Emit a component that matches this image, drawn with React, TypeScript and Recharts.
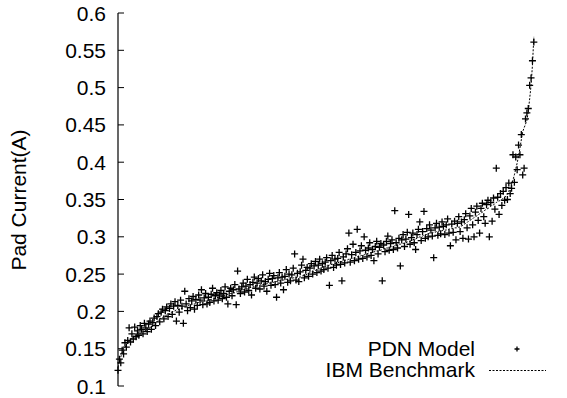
import { ComposedChart, Line, Scatter, XAxis, YAxis, Legend } from "recharts";

// IBM benchmark pad currents (sorted ascending), one value per pad
const benchmark = [
  0.125, 0.133, 0.139, 0.145, 0.149, 0.152, 0.155, 0.158, 0.16, 0.162,
  0.164, 0.166, 0.167, 0.168, 0.169, 0.17, 0.171, 0.172, 0.173, 0.174,
  0.175, 0.176, 0.177, 0.178, 0.179, 0.18, 0.182, 0.184, 0.186, 0.188,
  0.19, 0.191, 0.192, 0.193, 0.194, 0.195, 0.196, 0.197, 0.198, 0.199,
  0.2, 0.201, 0.202, 0.202, 0.203, 0.204, 0.204, 0.205, 0.206, 0.206,
  0.207, 0.208, 0.209, 0.209, 0.21, 0.21, 0.211, 0.211, 0.212, 0.212,
  0.213, 0.213, 0.214, 0.214, 0.215, 0.215, 0.216, 0.216, 0.217, 0.217,
  0.218, 0.218, 0.219, 0.219, 0.22, 0.22, 0.221, 0.221, 0.222, 0.223,
  0.223, 0.224, 0.224, 0.225, 0.225, 0.226, 0.227, 0.227, 0.228, 0.228,
  0.229, 0.229, 0.23, 0.23, 0.231, 0.232, 0.232, 0.233, 0.233, 0.234,
  0.234, 0.235, 0.235, 0.236, 0.236, 0.236, 0.237, 0.237, 0.238, 0.238,
  0.238, 0.239, 0.239, 0.24, 0.24, 0.24, 0.241, 0.241, 0.241, 0.242,
  0.242, 0.243, 0.243, 0.243, 0.244, 0.244, 0.245, 0.245, 0.245, 0.246,
  0.246, 0.246, 0.247, 0.248, 0.249, 0.249, 0.25, 0.251, 0.252, 0.253,
  0.253, 0.254, 0.255, 0.256, 0.257, 0.257, 0.258, 0.259, 0.26, 0.26,
  0.261, 0.261, 0.262, 0.263, 0.263, 0.264, 0.264, 0.265, 0.265, 0.266,
  0.266, 0.267, 0.268, 0.268, 0.269, 0.269, 0.27, 0.27, 0.271, 0.271,
  0.272, 0.273, 0.273, 0.274, 0.274, 0.275, 0.275, 0.276, 0.276, 0.277,
  0.278, 0.278, 0.279, 0.279, 0.28, 0.28, 0.281, 0.281, 0.282, 0.282,
  0.283, 0.284, 0.284, 0.285, 0.285, 0.286, 0.286, 0.287, 0.287, 0.288,
  0.289, 0.289, 0.29, 0.29, 0.291, 0.291, 0.292, 0.292, 0.293, 0.294,
  0.294, 0.295, 0.296, 0.297, 0.297, 0.298, 0.299, 0.3, 0.3, 0.301,
  0.302, 0.303, 0.303, 0.304, 0.305, 0.305, 0.306, 0.306, 0.306, 0.307,
  0.307, 0.308, 0.308, 0.308, 0.309, 0.309, 0.309, 0.31, 0.31, 0.311,
  0.311, 0.311, 0.312, 0.312, 0.312, 0.313, 0.313, 0.314, 0.316, 0.317,
  0.318, 0.319, 0.321, 0.322, 0.323, 0.324, 0.326, 0.327, 0.328, 0.329,
  0.331, 0.332, 0.333, 0.334, 0.336, 0.337, 0.338, 0.339, 0.341, 0.342,
  0.343, 0.344, 0.346, 0.347, 0.348, 0.349, 0.35, 0.352, 0.353, 0.355,
  0.357, 0.361, 0.366, 0.371, 0.376, 0.383, 0.391, 0.399, 0.408, 0.419,
  0.43, 0.441, 0.446, 0.451, 0.456, 0.468, 0.485, 0.503, 0.53, 0.568,
];

// PDN model estimate for the same pads
const pdnModel = [
  0.121, 0.136, 0.131, 0.148, 0.143, 0.158, 0.152, 0.161, 0.178, 0.159,
  0.17, 0.163, 0.179, 0.166, 0.174, 0.168, 0.181, 0.176, 0.17, 0.184,
  0.178, 0.173, 0.183, 0.187, 0.176, 0.185, 0.191, 0.181, 0.193, 0.197,
  0.186, 0.199, 0.203, 0.19, 0.201, 0.206, 0.193, 0.204, 0.21, 0.196,
  0.207, 0.213, 0.187, 0.208, 0.199, 0.215, 0.207, 0.184, 0.227, 0.21,
  0.201, 0.217, 0.205, 0.214, 0.22, 0.203, 0.216, 0.208, 0.222, 0.215,
  0.229, 0.209, 0.218, 0.224, 0.21, 0.219, 0.212, 0.223, 0.231, 0.214,
  0.221, 0.225, 0.215, 0.222, 0.228, 0.217, 0.224, 0.233, 0.219, 0.21,
  0.227, 0.231, 0.221, 0.229, 0.236, 0.209, 0.254, 0.23, 0.224, 0.233,
  0.238, 0.226, 0.234, 0.243, 0.228, 0.236, 0.222, 0.239, 0.246, 0.231,
  0.238, 0.244, 0.23, 0.241, 0.249, 0.234, 0.24, 0.227, 0.243, 0.251,
  0.235, 0.244, 0.248, 0.236, 0.219, 0.245, 0.252, 0.238, 0.246, 0.229,
  0.247, 0.256, 0.239, 0.25, 0.241, 0.249, 0.258, 0.277, 0.242, 0.251,
  0.24, 0.253, 0.262, 0.27, 0.245, 0.255, 0.259, 0.247, 0.258, 0.264,
  0.25, 0.261, 0.267, 0.252, 0.262, 0.27, 0.254, 0.264, 0.256, 0.266,
  0.272, 0.258, 0.235, 0.268, 0.275, 0.259, 0.27, 0.262, 0.271, 0.279,
  0.263, 0.241, 0.273, 0.265, 0.277, 0.284, 0.305, 0.266, 0.276, 0.29,
  0.268, 0.279, 0.31, 0.27, 0.281, 0.288, 0.271, 0.3, 0.282, 0.273,
  0.285, 0.292, 0.275, 0.283, 0.268, 0.287, 0.294, 0.277, 0.286, 0.291,
  0.241, 0.289, 0.28, 0.294, 0.301, 0.282, 0.291, 0.296, 0.283, 0.335,
  0.292, 0.285, 0.298, 0.261, 0.296, 0.303, 0.287, 0.297, 0.306, 0.33,
  0.29, 0.299, 0.305, 0.292, 0.283, 0.303, 0.31, 0.32, 0.295, 0.307,
  0.334, 0.298, 0.311, 0.3, 0.316, 0.309, 0.301, 0.272, 0.312, 0.318,
  0.302, 0.313, 0.304, 0.32, 0.314, 0.303, 0.316, 0.324, 0.305, 0.288,
  0.317, 0.306, 0.321, 0.296, 0.318, 0.327, 0.307, 0.32, 0.298, 0.323,
  0.331, 0.312, 0.297, 0.328, 0.338, 0.316, 0.3, 0.333, 0.341, 0.322,
  0.305, 0.338, 0.345, 0.327, 0.318, 0.343, 0.349, 0.3, 0.346, 0.321,
  0.352, 0.337, 0.392, 0.353, 0.33, 0.358, 0.342, 0.361, 0.349, 0.366,
  0.35, 0.372, 0.358, 0.365, 0.41, 0.373, 0.407, 0.39, 0.423, 0.41,
  0.437, 0.383, 0.392, 0.458, 0.466, 0.472, 0.503, 0.513, 0.536, 0.561,
];

const yTicks = [0.1, 0.15, 0.2, 0.25, 0.3, 0.35, 0.4, 0.45, 0.5, 0.55, 0.6];
const yTickLabels = ["0.1", "0.15", "0.2", "0.25", "0.3", "0.35", "0.4", "0.45", "0.5", "0.55", "0.6"];
const seriesNames = ["PDN Model", "IBM Benchmark"];

const FONT = "'Liberation Sans', Arial, Helvetica, sans-serif";

const rows = benchmark.map((b, i) => ({ idx: i, bench: b, pdn: pdnModel[i] }));

function Plus({ cx, cy, r = 3.5 }: { cx?: number; cy?: number; r?: number }) {
  if (cx == null || cy == null) return null;
  return (
    <path
      d={`M${cx - r},${cy}H${cx + r}M${cx},${cy - r}V${cy + r}`}
      stroke="#000"
      strokeWidth={1.3}
      fill="none"
    />
  );
}

function LeftTick(props: any) {
  const { x, y, payload } = props;
  const label = yTickLabels[yTicks.indexOf(payload.value)] ?? String(payload.value);
  return (
    <g>
      <line x1={x} x2={x + 6} y1={y} y2={y} stroke="#000" strokeWidth={1} />
      <text x={x - 12} y={y} dy="0.36em" textAnchor="end" fontFamily={FONT} fontSize={21} fill="#000">
        {label}
      </text>
    </g>
  );
}

function RightTick(props: any) {
  const { x, y } = props;
  return <line x1={x - 6} x2={x} y1={y} y2={y} stroke="#000" strokeWidth={1} />;
}

function LegendBox() {
  return (
    <svg width={567} height={398} style={{ position: "absolute", left: 0, top: 0, pointerEvents: "none" }}>
      <text x={475} y={356} textAnchor="end" fontFamily={FONT} fontSize={21} fill="#000">
        {seriesNames[0]}
      </text>
      <Plus cx={517} cy={349} r={2.5} />
      <text x={475} y={377} textAnchor="end" fontFamily={FONT} fontSize={21} fill="#000">
        {seriesNames[1]}
      </text>
      <line x1={489} x2={546} y1={370.5} y2={370.5} stroke="#000" strokeWidth={1} strokeDasharray="2 1.5" />
    </svg>
  );
}

export default function App() {
  return (
    <div style={{ position: "absolute", left: 0, top: 0, width: 567, height: 398, overflow: "hidden", background: "#fff" }}>
      <ComposedChart width={570} height={398} data={rows} margin={{ top: 13, right: 0, bottom: 12, left: 0 }}>
        <XAxis
          xAxisId="bottom"
          dataKey="idx"
          type="number"
          domain={[0, 325]}
          tick={false}
          tickLine={false}
          height={0}
          axisLine={{ stroke: "#000", strokeWidth: 1.2 }}
        />
        <XAxis
          xAxisId="top"
          orientation="top"
          dataKey="idx"
          type="number"
          domain={[0, 325]}
          tick={false}
          tickLine={false}
          height={0}
          axisLine={{ stroke: "#000", strokeWidth: 1.2 }}
        />
        <YAxis
          yAxisId="left"
          type="number"
          domain={[0.1, 0.6]}
          ticks={yTicks}
          width={118}
          tickSize={0}
          tickMargin={0}
          tickLine={false}
          tick={<LeftTick />}
          axisLine={{ stroke: "#000", strokeWidth: 1.2 }}
          interval={0}
          label={{
            value: "Pad Current(A)",
            content: () => (
              <text
                transform="translate(26,200) rotate(-90)"
                textAnchor="middle"
                fontFamily={FONT}
                fontSize={21}
                fill="#000"
              >
                Pad Current(A)
              </text>
            ),
          }}
        />
        <YAxis
          yAxisId="right"
          orientation="right"
          type="number"
          domain={[0.1, 0.6]}
          ticks={yTicks}
          width={0}
          tickSize={0}
          tickMargin={0}
          tickLine={false}
          tick={<RightTick />}
          axisLine={false}
          interval={0}
        />
        <Line
          xAxisId="bottom"
          yAxisId="left"
          dataKey="bench"
          name={seriesNames[1]}
          stroke="#000"
          strokeWidth={1}
          strokeDasharray="2 1.5"
          dot={false}
          activeDot={false}
          isAnimationActive={false}
          type="linear"
        />
        <Scatter
          xAxisId="bottom"
          yAxisId="left"
          dataKey="pdn"
          name={seriesNames[0]}
          shape={(p: any) => <Plus cx={p.cx} cy={p.cy} />}
          isAnimationActive={false}
        />
        <Legend
          content={() => <LegendBox />}
          wrapperStyle={{ position: "absolute", left: 0, top: 0, width: 0, height: 0, overflow: "visible" }}
        />
      </ComposedChart>
    </div>
  );
}
